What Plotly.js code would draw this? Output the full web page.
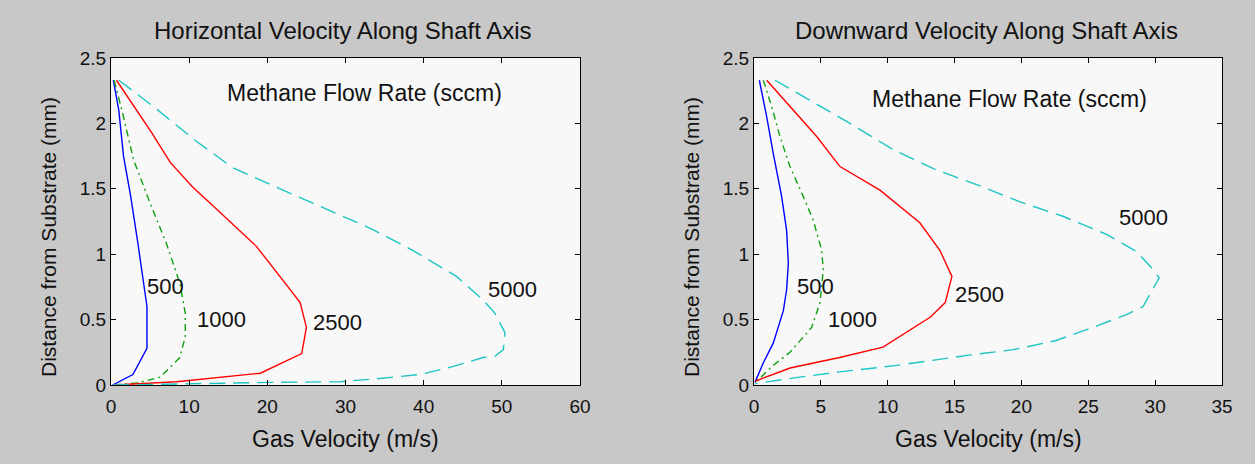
<!DOCTYPE html>
<html>
<head>
<meta charset="utf-8">
<script src="https://cdn.plot.ly/plotly-3.0.1.min.js"></script>
<style>html,body{margin:0;padding:0;background:#c8c8c8;}</style>
</head>
<body>
<div id="chart" style="width:1255px;height:464px;"></div>
<script>
// Flow rates (sccm)
const flowRates = ["500", "1000", "2500", "5000"];

// Left panel: horizontal velocity (m/s) vs distance (mm)
const hX500 = [0.3, 1.0, 1.6, 2.5, 3.4, 4.2, 4.6, 4.6, 2.8, 0.2];
const hY500 = [2.33, 2.1, 1.75, 1.45, 1.1, 0.75, 0.6, 0.28, 0.08, 0];
const hX1000 = [0.4, 1.4, 2.9, 5.0, 7.1, 8.8, 9.5, 9.5, 8.8, 6.3, 3.3, 0.2];
const hY1000 = [2.33, 2.1, 1.72, 1.39, 1.08, 0.78, 0.55, 0.37, 0.21, 0.06, 0.015, 0];
const hX2500 = [0.7, 5.2, 7.6, 10.5, 12.7, 16.9, 18.6, 21.6, 24.2, 25.0, 24.4, 19.1, 8.4, 0.5];
const hY2500 = [2.33, 1.93, 1.70, 1.51, 1.39, 1.16, 1.06, 0.83, 0.63, 0.44, 0.24, 0.09, 0.025, 0];
const hX5000 = [1.0, 5.4, 11.0, 15.6, 22.0, 30.0, 33.1, 38.6, 44.2, 47.6, 49.1, 50.4, 50.2, 49.1, 47.6, 43.7, 39.5, 33.5, 29.3, 21.0, 8.4, 0.2];
const hY5000 = [2.33, 2.13, 1.86, 1.66, 1.49, 1.28, 1.2, 1.03, 0.83, 0.65, 0.55, 0.40, 0.27, 0.22, 0.21, 0.14, 0.08, 0.045, 0.025, 0.02, 0.01, 0];

// Right panel: downward velocity (m/s) vs distance (mm)
const dX500 = [0.4, 0.95, 1.44, 2.07, 2.44, 2.57, 2.44, 2.2, 1.44, 0.7, 0.07];
const dY500 = [2.33, 2.05, 1.77, 1.44, 1.18, 0.93, 0.73, 0.57, 0.32, 0.17, 0.02];
const dX1000 = [0.7, 1.32, 1.94, 2.69, 3.69, 4.43, 5.06, 5.18, 4.94, 4.31, 2.69, 1.44, 0.1];
const dY1000 = [2.33, 2.13, 1.9, 1.67, 1.44, 1.26, 1.03, 0.88, 0.63, 0.44, 0.25, 0.15, 0.02];
const dX2500 = [0.95, 2.69, 4.69, 6.43, 9.42, 12.4, 13.9, 14.8, 14.3, 13.2, 9.65, 6.4, 2.7, 0.1];
const dY2500 = [2.33, 2.13, 1.9, 1.67, 1.49, 1.24, 1.03, 0.83, 0.63, 0.52, 0.29, 0.21, 0.13, 0.03];
const dX5000 = [1.57, 3.94, 7.18, 10.4, 13.5, 16.7, 19.9, 23.1, 26.4, 28.6, 29.7, 30.3, 29.1, 27.9, 25.6, 22.6, 19.4, 16.2, 13.5, 10.7, 6.4, 3.4, 0.1];
const dY5000 = [2.33, 2.19, 2.0, 1.8, 1.65, 1.53, 1.40, 1.29, 1.15, 1.02, 0.90, 0.82, 0.60, 0.54, 0.45, 0.34, 0.27, 0.23, 0.19, 0.15, 0.10, 0.06, 0.01];

// Curve label positions (data coords)
const hLabelX = [7.0, 14.1, 29.0, 51.4];
const hLabelY = [0.75, 0.5, 0.48, 0.73];
const dLabelX = [4.6, 7.4, 16.9, 29.1];
const dLabelY = [0.75, 0.5, 0.69, 1.28];

const styles = [
  {color: '#0000ff', dash: 'solid'},
  {color: '#11a011', dash: '7px,4px,2px,4px'},
  {color: '#ff0000', dash: 'solid'},
  {color: '#1cc4c4', dash: '16px,8px'}
];

const hX = [hX500, hX1000, hX2500, hX5000];
const hY = [hY500, hY1000, hY2500, hY5000];
const dX = [dX500, dX1000, dX2500, dX5000];
const dY = [dY500, dY1000, dY2500, dY5000];

const traces = [];
for (let i = 0; i < 4; i++) {
  traces.push({x: hX[i], y: hY[i], xaxis: 'x', yaxis: 'y', mode: 'lines', name: flowRates[i],
    line: {color: styles[i].color, dash: styles[i].dash, width: 1.4}, hoverinfo: 'skip'});
}
for (let i = 0; i < 4; i++) {
  traces.push({x: dX[i], y: dY[i], xaxis: 'x2', yaxis: 'y2', mode: 'lines', name: flowRates[i],
    line: {color: styles[i].color, dash: styles[i].dash, width: 1.4}, hoverinfo: 'skip'});
}

const FONT = 'Liberation Sans, Arial, sans-serif';
const ttl = {family: FONT, size: 24, color: '#111'};
const big = {family: FONT, size: 22, color: '#111'};
const lbl = {family: FONT, size: 23, color: '#111'};
const ytl = {family: FONT, size: 21, color: '#111'};
const xtl = {family: FONT, size: 23, color: '#111'};
const med = {family: FONT, size: 19, color: '#111'};

const annotations = [];
for (let i = 0; i < 4; i++) {
  annotations.push({x: hLabelX[i], y: hLabelY[i], xref: 'x', yref: 'y', text: flowRates[i],
    showarrow: false, font: big, xanchor: 'center', yanchor: 'middle'});
  annotations.push({x: dLabelX[i], y: dLabelY[i], xref: 'x2', yref: 'y2', text: flowRates[i],
    showarrow: false, font: big, xanchor: 'center', yanchor: 'middle'});
}
annotations.push({x: 32.4, y: 2.23, xref: 'x', yref: 'y', text: 'Methane Flow Rate (sccm)',
  showarrow: false, font: lbl, xanchor: 'center', yanchor: 'middle'});
annotations.push({x: 19.1, y: 2.19, xref: 'x2', yref: 'y2', text: 'Methane Flow Rate (sccm)',
  showarrow: false, font: lbl, xanchor: 'center', yanchor: 'middle'});
annotations.push({x: 343/1255, y: 1 - 31/464, xref: 'paper', yref: 'paper', text: 'Horizontal Velocity Along Shaft Axis',
  showarrow: false, font: ttl, xanchor: 'center', yanchor: 'middle'});
annotations.push({x: 986/1255, y: 1 - 31/464, xref: 'paper', yref: 'paper', text: 'Downward Velocity Along Shaft Axis',
  showarrow: false, font: ttl, xanchor: 'center', yanchor: 'middle'});
annotations.push({x: 48/1255, y: 1 - 237/464, xref: 'paper', yref: 'paper', text: 'Distance from Substrate (mm)',
  showarrow: false, font: ytl, textangle: -90, xanchor: 'center', yanchor: 'middle'});
annotations.push({x: 691/1255, y: 1 - 237/464, xref: 'paper', yref: 'paper', text: 'Distance from Substrate (mm)',
  showarrow: false, font: ytl, textangle: -90, xanchor: 'center', yanchor: 'middle'});
annotations.push({x: 345/1255, y: 1 - 439/464, xref: 'paper', yref: 'paper', text: 'Gas Velocity (m/s)',
  showarrow: false, font: xtl, xanchor: 'center', yanchor: 'middle'});
annotations.push({x: 988/1255, y: 1 - 439/464, xref: 'paper', yref: 'paper', text: 'Gas Velocity (m/s)',
  showarrow: false, font: xtl, xanchor: 'center', yanchor: 'middle'});

function xa(domain, range, dtick) {
  return {domain: domain, range: range, dtick: dtick, tick0: 0, ticks: 'inside', ticklen: 5,
    tickcolor: '#000', showline: true, linecolor: '#000', linewidth: 1, mirror: 'ticks',
    showgrid: false, zeroline: false, tickfont: med, ticklabelstandoff: 4, fixedrange: true};
}
function ya(domain, anchor) {
  return {domain: domain, range: [0, 2.5], dtick: 0.5, tick0: 0, ticks: 'inside', ticklen: 5,
    tickcolor: '#000', showline: true, linecolor: '#000', linewidth: 1, mirror: 'ticks',
    showgrid: false, zeroline: false, tickfont: med, anchor: anchor, fixedrange: true};
}

const yDom = [1 - 385/464, 1 - 58/464];
const layout = {
  width: 1255, height: 464,
  margin: {l: 0, r: 0, t: 0, b: 0},
  paper_bgcolor: '#c8c8c8', plot_bgcolor: '#f8f8f8',
  showlegend: false,
  xaxis: Object.assign(xa([111/1255, 580/1255], [0, 60], 10), {anchor: 'y'}),
  yaxis: ya(yDom, 'x'),
  xaxis2: Object.assign(xa([754/1255, 1222/1255], [0, 35], 5), {anchor: 'y2'}),
  yaxis2: ya(yDom, 'x2'),
  annotations: annotations
};

Plotly.newPlot('chart', traces, layout, {displayModeBar: false, staticPlot: true});
</script>
</body>
</html>
